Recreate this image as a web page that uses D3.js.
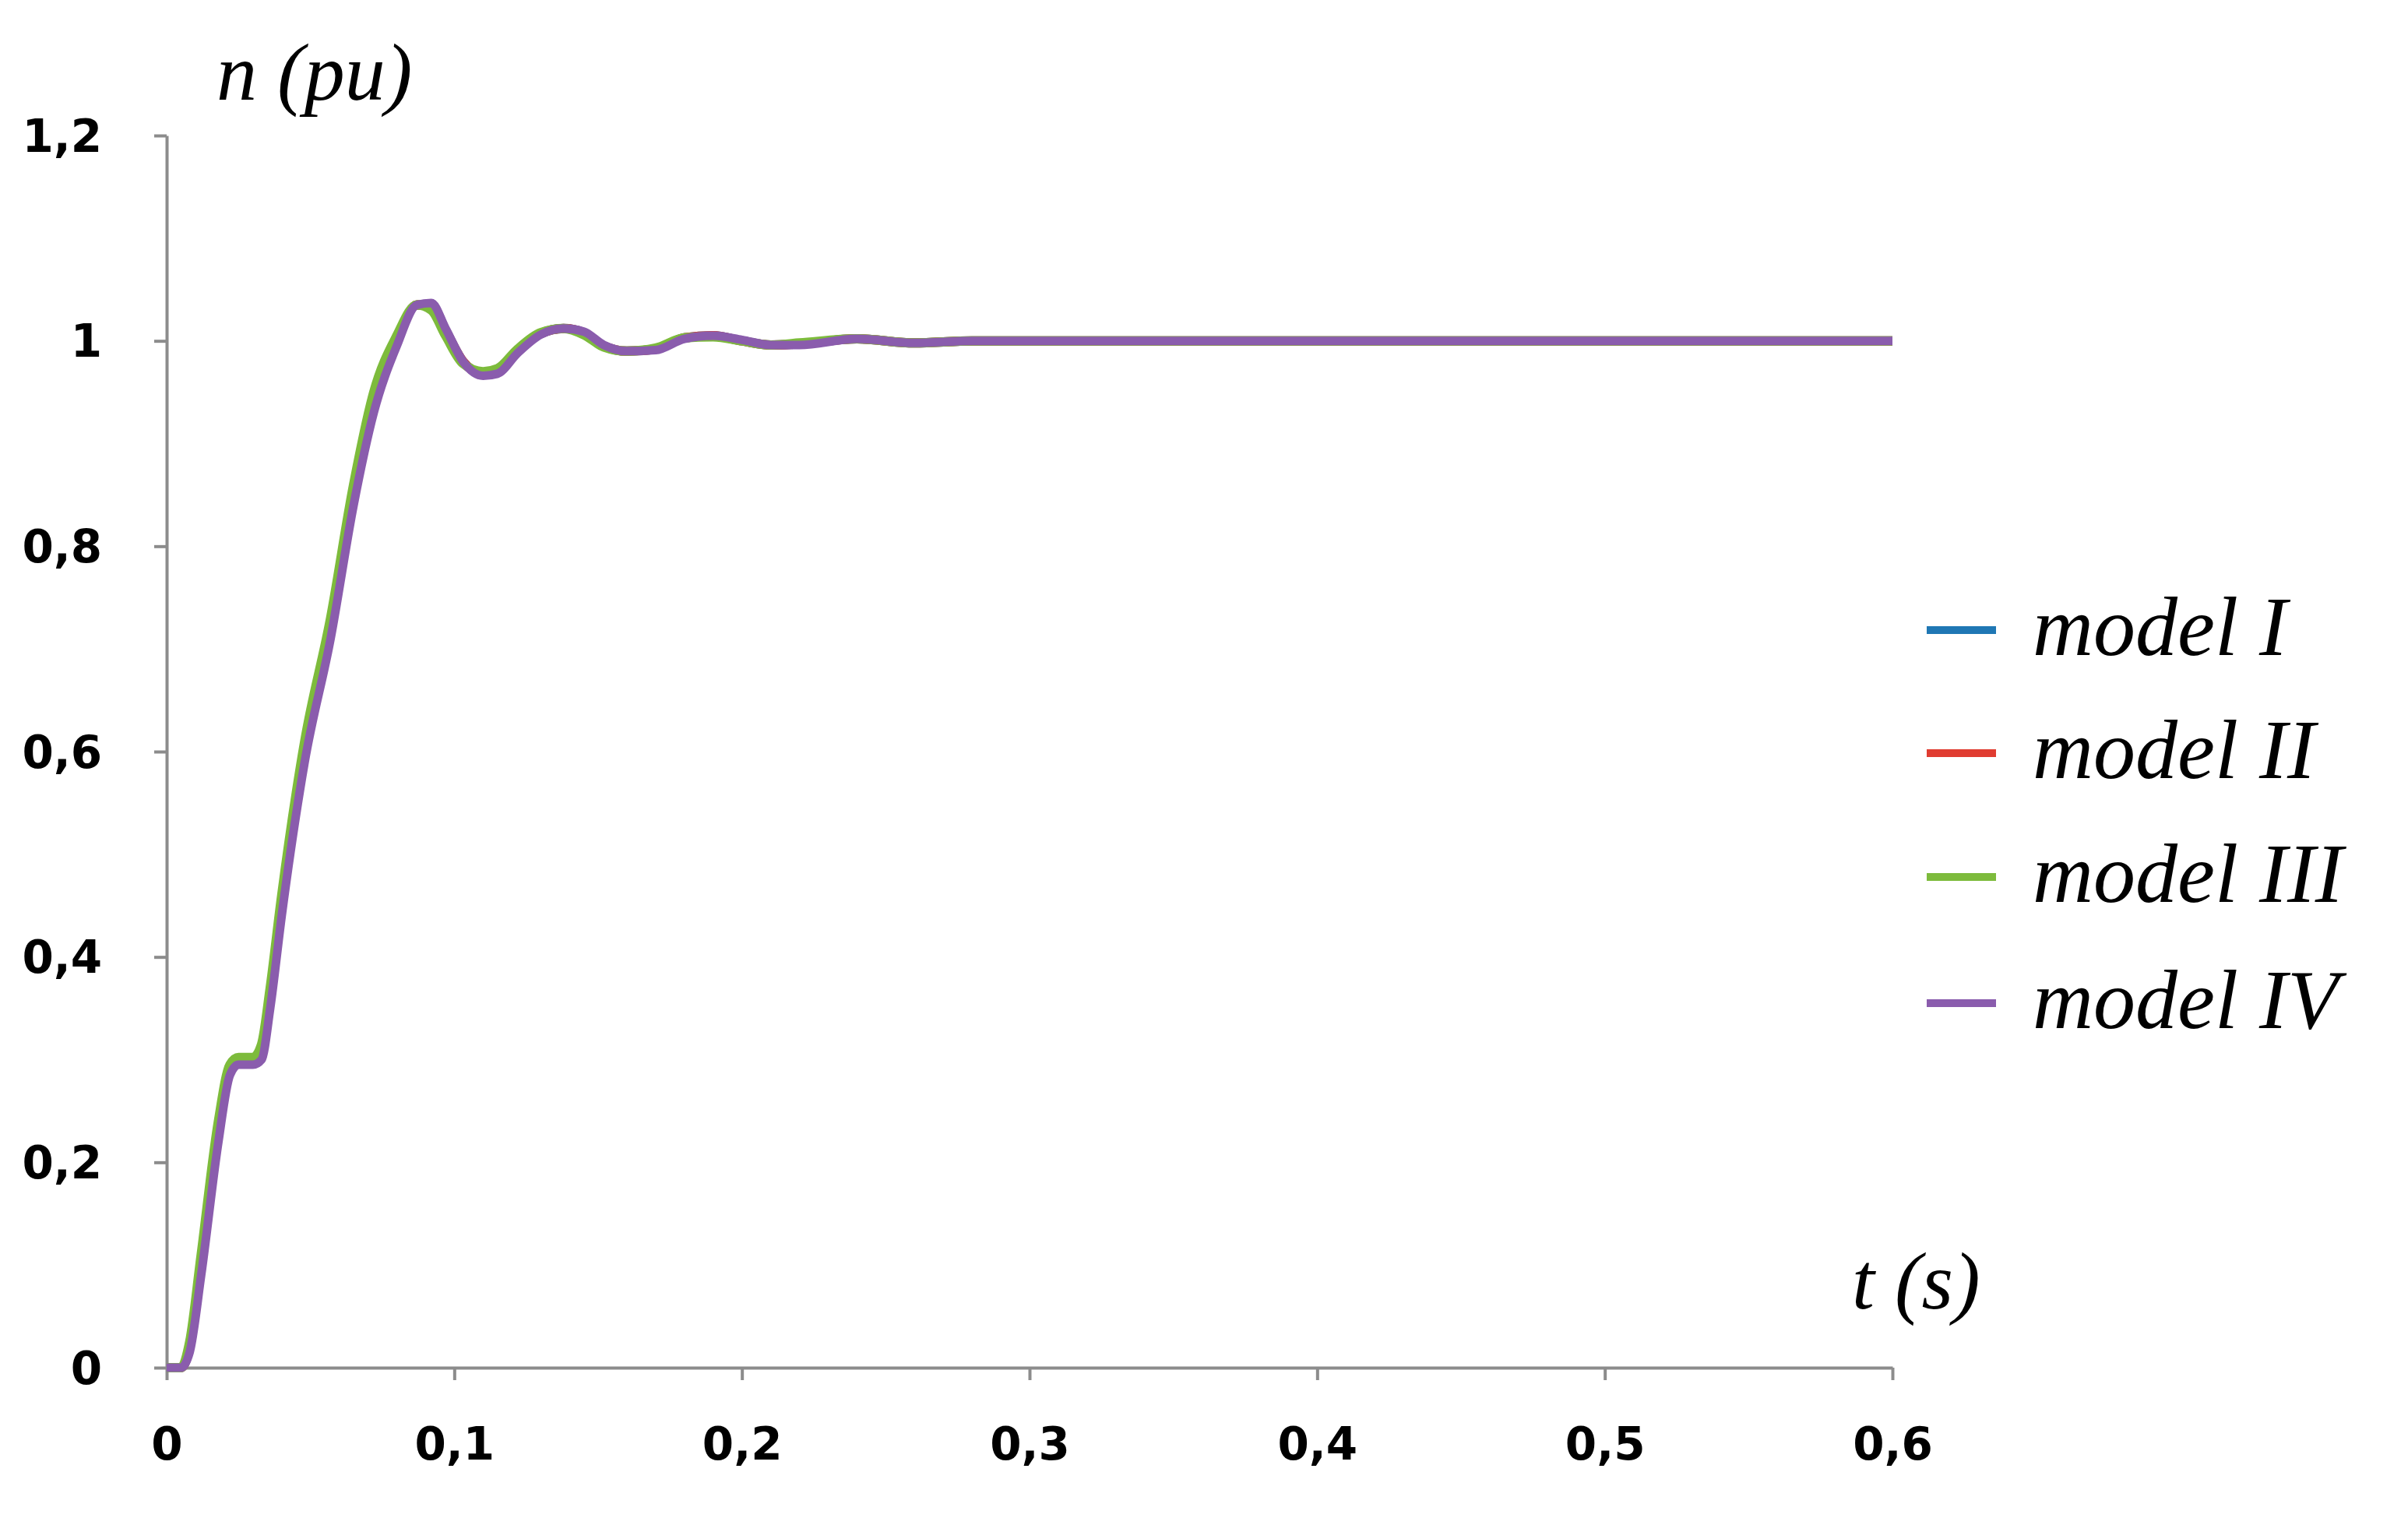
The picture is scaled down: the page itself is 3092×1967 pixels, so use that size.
<!DOCTYPE html><html><head><meta charset="utf-8"><script src="https://cdn.jsdelivr.net/npm/d3@7"></script>
<style>body{margin:0;background:#fff}</style></head><body><svg id="c" width="3092" height="1967"></svg><script>
const xTicks=[0,0.1,0.2,0.3,0.4,0.5,0.6];
const yTicks=[0,0.2,0.4,0.6,0.8,1,1.2];
const seriesNames=["model I","model II","model III","model IV"];
const colors=["#1f77b4","#e03c31","#7dbb3c","#8a5cad"];
const tVals=[0,0.005,0.008,0.012,0.018,0.022,0.025,0.03,0.033,0.036,0.04,0.048,0.057,0.065,0.072,0.08,0.087,0.092,0.097,0.103,0.11,0.115,0.122,0.13,0.138,0.145,0.152,0.16,0.17,0.18,0.19,0.2,0.21,0.22,0.24,0.26,0.28,0.6];
const modelI=[0,0,0.02,0.1,0.23,0.29,0.3,0.3,0.31,0.36,0.45,0.6,0.72,0.85,0.94,1.0,1.035,1.035,1.01,0.98,0.968,0.97,0.99,1.007,1.012,1.008,0.995,0.99,0.992,1.003,1.005,1.0,0.996,0.997,1.002,0.998,1.0,1.0];
const modelII=[0,0,0.02,0.1,0.23,0.29,0.3,0.3,0.31,0.36,0.45,0.6,0.72,0.85,0.94,1.0,1.035,1.035,1.01,0.98,0.968,0.97,0.99,1.007,1.012,1.008,0.995,0.99,0.992,1.003,1.005,1.0,0.996,0.997,1.002,0.998,1.0,1.0];
const modelIII=[0,0,0.025,0.11,0.24,0.295,0.302,0.302,0.315,0.37,0.46,0.61,0.73,0.86,0.95,1.005,1.035,1.03,1.005,0.978,0.97,0.973,0.992,1.008,1.012,1.006,0.994,0.99,0.993,1.003,1.004,1.0,0.996,0.998,1.002,0.998,1.0,1.0];
const modelIV=[0,0,0.015,0.09,0.22,0.285,0.295,0.295,0.3,0.35,0.44,0.59,0.71,0.84,0.93,0.995,1.035,1.037,1.012,0.98,0.966,0.968,0.988,1.006,1.012,1.009,0.996,0.99,0.991,1.002,1.005,1.001,0.996,0.996,1.002,0.998,1.0,1.0];
const allSeries=[modelI,modelII,modelIII,modelIV];
const svg=d3.select("#c");
const x=d3.scaleLinear().domain([0,0.6]).range([214,2430]);
const y=d3.scaleLinear().domain([0,1.2]).range([1756,174]);
const fmt=d=>String(d).replace(".",",");
const gx=svg.append("g").attr("transform","translate(0,1756)").call(d3.axisBottom(x).tickValues(xTicks).tickFormat(fmt).tickSize(16).tickSizeOuter(0));
const gy=svg.append("g").attr("transform","translate(214,0)").call(d3.axisLeft(y).tickValues(yTicks).tickFormat(fmt).tickSize(16).tickSizeOuter(0));
[gx,gy].forEach(g=>{g.selectAll("path,line").attr("stroke","#8c8c8c").attr("stroke-width",4);
 g.selectAll("text").attr("font-family","'DejaVu Sans', sans-serif").attr("font-weight","bold").attr("font-size",58).attr("fill","#000");});
gx.selectAll("text").attr("dy","1.7em");
gy.selectAll("text").attr("dx","-1.1em").attr("dy","0.35em");
const line=d3.line().x((d,i)=>x(tVals[i])).y(d=>y(d)).curve(d3.curveMonotoneX);
allSeries.forEach((s,k)=>svg.append("path").datum(s).attr("d",line).attr("fill","none").attr("stroke",colors[k]).attr("stroke-width",k==3?11:12).attr("stroke-linejoin","round"));
const tf="'Liberation Serif', 'Times New Roman', serif";
svg.append("text").attr("x",278).attr("y",128).attr("font-family",tf).attr("font-style","italic").attr("font-size",104).text("n (pu)");
svg.append("text").attr("x",2378).attr("y",1680).attr("font-family",tf).attr("font-style","italic").attr("font-size",104).text("t (s)");
const ly=[809,967,1126,1288];
seriesNames.forEach((n,k)=>{
 svg.append("line").attr("x1",2474).attr("x2",2563).attr("y1",ly[k]).attr("y2",ly[k]).attr("stroke",colors[k]).attr("stroke-width",10);
 svg.append("text").attr("x",2610).attr("y",ly[k]+32).attr("font-family",tf).attr("font-style","italic").attr("font-size",108).text(n);
});
</script></body></html>
